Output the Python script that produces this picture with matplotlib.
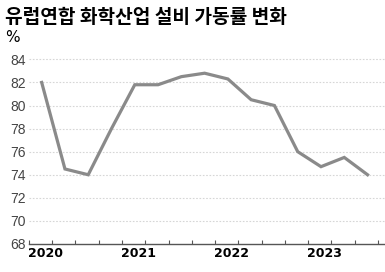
import matplotlib.pyplot as plt

plt.rcParams['font.family'] = ['Noto Sans CJK KR', 'DejaVu Sans']

# 분기별 가동률 (2020 Q1 ~ 2023 Q3)
quarters = list(range(15))
utilization = [82.0, 74.5, 74.0, 78.0, 81.8, 81.8, 82.5, 82.8, 82.3,
               80.5, 80.0, 76.0, 74.7, 75.5, 74.0]
year_labels = ['2020', '2021', '2022', '2023']
year_quarters = [0, 4, 8, 12]
y_ticks = [68, 70, 72, 74, 76, 78, 80, 82, 84]

fig = plt.figure(figsize=(3.85, 2.72), dpi=100)
ax = fig.add_axes([0.075, 0.103, 0.925, 0.70])

x = [q + 0.55 for q in quarters]
ax.plot(x, utilization, color='#8a8a8a', linewidth=2.3, solid_joinstyle='miter')

ax.set_xlim(0, 15.3)
ax.set_ylim(68, 84.5)

for v in y_ticks[1:]:
    ax.axhline(v, color='#d6d6d6', linewidth=0.8, linestyle=(0, (1.5, 1.5)), zorder=0)

ax.set_yticks(y_ticks)
ax.set_yticklabels([str(v) for v in y_ticks], fontsize=10, color='#444444',
                   family=['Liberation Sans', 'DejaVu Sans'])
ax.tick_params(axis='y', length=0, pad=2)

ax.set_xticks(range(16))
ax.set_xticklabels([])
ax.set_xticks([q + 0.7 for q in year_quarters], minor=True)
ax.set_xticklabels(year_labels, minor=True, fontsize=9, fontweight='bold',
                   family=['DejaVu Sans'])
ax.tick_params(axis='x', which='major', direction='in', length=3, color='#555555')
ax.tick_params(axis='x', which='minor', length=0, pad=2)

for s in ['top', 'right', 'left']:
    ax.spines[s].set_visible(False)
ax.spines['bottom'].set_color('#555555')
ax.spines['bottom'].set_linewidth(1.0)

fig.text(0.013, 0.935, '유럽연합 화학산업 설비 가동률 변화', fontsize=13.8,
         fontweight='bold', va='center', ha='left')
fig.text(0.013, 0.862, '%', fontsize=11, va='center', ha='left',
         family=['DejaVu Sans'])

fig.savefig('out.png', dpi=100)
